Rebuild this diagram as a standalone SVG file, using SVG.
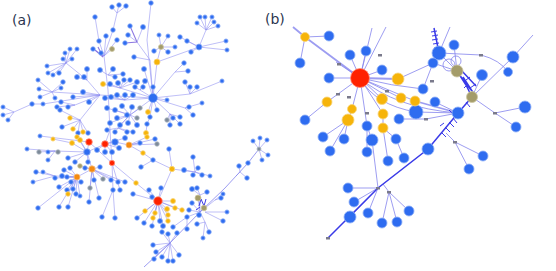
<svg xmlns="http://www.w3.org/2000/svg" width="556" height="271" viewBox="0 0 556 271">
<style>
.e{stroke:#8c8cf0;stroke-width:.7;fill:none;opacity:.8}
.eb{stroke:#8585ee;stroke-width:1;fill:none;opacity:.8}
.ev{stroke:#7a62dc;stroke-width:1.1;fill:none;opacity:.85}
.ed{stroke:#3a3ae8;stroke-width:1.5;fill:none}
.tk{stroke:#3a3ae8;stroke-width:1;fill:none}
.bl{fill:#2e6cf0;stroke:#8eaef6;stroke-width:.8}
.ye{fill:#f6b40a;stroke:#f8d47a;stroke-width:.8}
.rd{fill:#ff2200;stroke:#ff8f78;stroke-width:.8}
.or{fill:#f58a10;stroke:#f8bb78;stroke-width:.8}
.ol{fill:#a49c6a;stroke:#cbc5a0;stroke-width:.8}
.gy{fill:#7d8a99;stroke:#b4bcc6;stroke-width:.8}
.lb{fill:#7a7a8c}
.t{font-family:"DejaVu Sans",sans-serif;font-size:14px;fill:#2b3550}
</style>
<rect width="556" height="271" fill="#ffffff"/>
<text class="t" x="12" y="25">(a)</text>
<text class="t" x="265" y="24">(b)</text>

<g id="connectors-a">
<path class="e" d="M151,3L147,40L153,98M137,42L150,60L153,98M143,27L137,42M128,35L137,42M119,5L117,13M126,6L117,13M112,7L117,13M117,13L113,30L104,56M95,17L99,41M99,41L104,56M106,36L104,56M117,40L104,56M93,49L104,56M101,53L104,56M112,49L104,56M104,56L108,90L110,130L112,163M134,57L150,60
M200,17L206,30M205,17L206,30M212,17L206,30M197,23L206,30M214,22L206,30M218,26L206,30M206,30L199,47M199,47L226,41M199,47L227,50M180,37L199,47M187,41L199,47M191,52L199,47M199,47L157,62M159,35L161,47M168,36L161,47M154,51L161,47M168,52L161,47M175,47L161,47M161,47L157,62L153,98M184,63L175,72M188,71L175,72M175,72L153,98
M153,98L190,94L222,81M185,82L190,94M190,87L190,94M197,87L190,94M153,98L167,100M153,98L185,108L202,103M189,107L185,108M193,115L185,108
M65,53L66,63M70,49L66,63M77,49L66,63M63,59L66,63M72,59L66,63M47,66L66,63M48,73L66,63M53,75L66,63M59,73L66,63M66,63L87,80L100,95M77,77L87,80M84,77L87,80M87,69L87,80M100,70L108,75M113,69L108,75M115,77L108,75M123,74L108,75M144,69L153,98
M38,80L52,92M39,89L52,92M63,82L52,92M61,88L52,92M55,98L52,92M40,97L52,92M52,92L100,95M3,107L14,112M3,115L14,112M8,120L14,112M14,112L32,104L43,104L100,95M83,92L100,95M89,102L100,95M73,97L100,95M61,102L75,105M57,107L75,105M68,107L75,105M75,105L100,95
M60,110L80,120M70,118L80,120M62,127L80,120M73,129L80,120M83,132L80,120M78,133L80,120M88,133L80,120M80,120L100,95M100,95L153,98
M103,84L120,88M110,84L120,88M118,83L120,88M124,80L120,88M130,80L120,88M137,82L120,88M145,81L140,90M135,87L140,90M143,87L140,90M153,87L153,98M120,88L153,98M140,90L153,98
M105,98L125,100M111,97L125,100M117,95L125,100M125,95L125,100M133,95L125,100M125,100L153,98
M107,108L130,115M115,110L130,115M122,106L130,115M132,107L130,115M140,108L130,115M117,118L130,115M110,123L130,115M120,125L130,115M128,123L130,115M137,125L130,115M137,118L130,115M127,115L130,115M130,115L153,98M148,112L153,98M157,110L153,98M150,117L153,98M147,124L150,117M146,133L147,124M167,120L170,114M173,118L170,114M180,117L170,114M170,125L170,114M180,124L170,114M170,114L153,98M127,132L118,128M107,130L118,128M115,132L118,128M133,132L118,128M118,128L130,115
M40,136L89,142L112,163L136,183L158,201M105,144L115,142M105,144L125,138M105,144L119,148M105,144L97,150M105,144L105,152M105,144L112,152M105,144L110,130M129,145L140,143M129,145L147,137M129,145L155,139M129,145L157,144M129,145L115,142M129,145L143,153
M87,152L72,143M87,152L77,137M87,152L80,140M87,152L68,158M87,152L75,162M87,152L88,162M87,152L89,142M87,152L105,144M53,139L72,143M27,149L55,151M39,152L55,151M48,152L55,151M58,152L55,151M48,160L55,151M55,151L87,152
M92,169L85,168M92,169L100,167M92,169L80,166M92,169L90,188M92,169L94,180M92,169L103,179M92,169L111,180M92,169L118,182M92,169L125,182M92,169L99,198M92,169L89,202M92,169L87,152
M77,177L62,176M77,177L55,178M77,177L67,177M77,177L71,182M77,177L81,182M77,177L59,187M77,177L67,190M77,177L68,194M77,177L73,189M77,177L76,194M77,177L80,196M77,177L70,168M77,177L64,170M77,177L92,169M36,172L55,176M43,172L55,176M33,182L55,176M55,176L77,177M38,208L77,177M59,207L77,177M68,207L77,177
M112,163L113,190M112,163L120,190M113,190L102,217M113,190L115,218
M158,201L173,201M158,201L161,188M158,201L149,190M158,201L152,197M158,201L145,211M158,201L155,213M158,201L153,218M158,201L167,209M158,201L175,208M158,201L182,210M158,201L168,215M158,201L168,221M158,201L163,226M158,201L160,221M158,201L144,223M158,201L152,226M158,201L137,218M158,201L133,194
M158,201L172,169L169,149M141,167L153,160M153,160L172,169M143,153L153,160M193,157L195,172M184,170L195,172M198,168L195,172M193,175L195,172M202,175L195,172M210,176L195,172M195,172L172,169M192,189L200,195M197,188L200,195M207,192L200,195M200,195L200,212
M259,149L253,141M259,149L260,138M259,149L267,140M259,149L268,155M259,149L262,160M239,166L240,172M247,178L240,172M240,172L236,176
M198,198L200,212M204,208L200,212M192,203L200,212M189,210L200,212M187,217L200,212M199,215L200,212M197,224L205,222M209,232L205,222M203,238L205,222M205,222L200,212M221,198L215,200M223,194L215,200M215,200L200,212M227,212L205,212M223,221L205,212M173,227L187,217M187,229L187,217
M170,243L153,245M170,243L156,252M170,243L162,257M170,243L168,261M170,243L173,261M170,243L179,255M170,243L154,259M170,243L162,232M170,243L168,234M170,243L177,233"/>
<path class="eb" d="M144,267L170,243L200,212L225,188L248,163L259,149"/>
<path class="ev" d="M130,26L137,42L125,43M95,50L103,57L98,47"/>
<path class="tk" d="M199,206L201,199L204,206L206,199M196,210L200,207"/>
</g>

<g id="nodes-a">
<g class="bl">
<circle cx="119" cy="5" r="2.3"/><circle cx="126" cy="6" r="2.3"/><circle cx="112" cy="7" r="2.3"/><circle cx="151" cy="3" r="2.3"/><circle cx="95" cy="17" r="2.3"/><circle cx="113" cy="30" r="2.3"/><circle cx="130" cy="26" r="2.3"/><circle cx="143" cy="27" r="2.5"/><circle cx="99" cy="41" r="2.3"/><circle cx="106" cy="36" r="2.3"/><circle cx="117" cy="40" r="2.3"/><circle cx="125" cy="43" r="2.3"/><circle cx="128" cy="35" r="2.3"/><circle cx="93" cy="49" r="2.3"/><circle cx="101" cy="53" r="2.3"/><circle cx="134" cy="57" r="2.3"/><circle cx="159" cy="35" r="2.1"/><circle cx="168" cy="36" r="2.1"/><circle cx="180" cy="37" r="2.3"/><circle cx="154" cy="51" r="2.3"/><circle cx="168" cy="52" r="2.3"/><circle cx="175" cy="47" r="2.1"/><circle cx="187" cy="41" r="2.3"/><circle cx="191" cy="52" r="2.3"/><circle cx="199" cy="47" r="3"/><circle cx="184" cy="63" r="2.3"/><circle cx="188" cy="71" r="2.3"/><circle cx="200" cy="17" r="2.1"/><circle cx="205" cy="17" r="2.1"/><circle cx="212" cy="17" r="2.1"/><circle cx="197" cy="23" r="2.1"/><circle cx="214" cy="22" r="2.1"/><circle cx="218" cy="26" r="2.1"/><circle cx="226" cy="41" r="2.1"/><circle cx="227" cy="50" r="2.1"/>
<circle cx="65" cy="53" r="2.1"/><circle cx="70" cy="49" r="2.1"/><circle cx="77" cy="49" r="2.1"/><circle cx="63" cy="59" r="2.1"/><circle cx="72" cy="59" r="2.1"/><circle cx="47" cy="66" r="2.1"/><circle cx="48" cy="73" r="2.1"/><circle cx="53" cy="75" r="2.1"/><circle cx="59" cy="73" r="2.3"/><circle cx="38" cy="80" r="2.1"/><circle cx="63" cy="82" r="2.3"/><circle cx="39" cy="89" r="2.1"/><circle cx="40" cy="97" r="2.1"/><circle cx="55" cy="98" r="2.1"/><circle cx="61" cy="88" r="2.1"/><circle cx="77" cy="77" r="2.5"/><circle cx="84" cy="77" r="2.5"/><circle cx="87" cy="69" r="2.5"/><circle cx="100" cy="70" r="2.5"/><circle cx="113" cy="69" r="2.5"/><circle cx="115" cy="77" r="2.3"/><circle cx="123" cy="74" r="2.3"/><circle cx="144" cy="69" r="2.5"/><circle cx="110" cy="84" r="2.5"/><circle cx="118" cy="83" r="2.5"/><circle cx="124" cy="80" r="2.3"/><circle cx="130" cy="80" r="2.3"/><circle cx="137" cy="82" r="2.5"/><circle cx="145" cy="81" r="2.5"/><circle cx="135" cy="87" r="2.3"/><circle cx="143" cy="87" r="2.3"/><circle cx="153" cy="87" r="2.3"/><circle cx="153" cy="98" r="4.5"/><circle cx="167" cy="100" r="2.1"/><circle cx="185" cy="82" r="2.3"/><circle cx="190" cy="87" r="2.3"/><circle cx="197" cy="87" r="2.3"/><circle cx="222" cy="81" r="2.1"/><circle cx="83" cy="92" r="2.5"/><circle cx="89" cy="102" r="2.5"/><circle cx="73" cy="97" r="2.3"/><circle cx="61" cy="102" r="2.3"/><circle cx="57" cy="107" r="2.3"/><circle cx="68" cy="107" r="2.3"/><circle cx="3" cy="107" r="2.1"/><circle cx="3" cy="115" r="2.1"/><circle cx="8" cy="120" r="2.1"/><circle cx="32" cy="104" r="2.3"/><circle cx="43" cy="104" r="2.1"/><circle cx="60" cy="110" r="2.3"/><circle cx="62" cy="127" r="2.3"/><circle cx="78" cy="133" r="2.3"/><circle cx="88" cy="133" r="2.3"/>
<circle cx="105" cy="98" r="2.5"/><circle cx="111" cy="97" r="2.5"/><circle cx="117" cy="95" r="2.5"/><circle cx="125" cy="95" r="2.5"/><circle cx="133" cy="95" r="2.5"/><circle cx="107" cy="108" r="2.5"/><circle cx="115" cy="110" r="2.5"/><circle cx="122" cy="106" r="2.5"/><circle cx="132" cy="107" r="2.5"/><circle cx="157" cy="110" r="2.3"/><circle cx="150" cy="117" r="2.3"/><circle cx="127" cy="115" r="2.5"/><circle cx="117" cy="118" r="2.5"/><circle cx="110" cy="123" r="2.5"/><circle cx="120" cy="125" r="2.5"/><circle cx="128" cy="123" r="2.5"/><circle cx="137" cy="125" r="2.5"/><circle cx="147" cy="124" r="2.3"/><circle cx="173" cy="118" r="2.3"/><circle cx="180" cy="117" r="2.3"/><circle cx="189" cy="107" r="2.3"/><circle cx="202" cy="103" r="2.1"/><circle cx="193" cy="115" r="2.3"/><circle cx="170" cy="125" r="2.3"/><circle cx="180" cy="124" r="2.3"/><circle cx="127" cy="132" r="2.3"/><circle cx="107" cy="130" r="2.3"/><circle cx="115" cy="132" r="2.3"/><circle cx="133" cy="132" r="2.3"/>
<circle cx="40" cy="136" r="2.1"/><circle cx="115" cy="142" r="3.3"/><circle cx="125" cy="138" r="2.5"/><circle cx="119" cy="148" r="2.5"/><circle cx="140" cy="143" r="2.3"/><circle cx="155" cy="139" r="2.3"/><circle cx="27" cy="149" r="2.1"/><circle cx="48" cy="152" r="2.1"/><circle cx="48" cy="160" r="2.1"/><circle cx="68" cy="158" r="2.3"/><circle cx="75" cy="162" r="2.3"/><circle cx="87" cy="152" r="3.3"/><circle cx="97" cy="150" r="2.5"/><circle cx="105" cy="152" r="2.5"/><circle cx="112" cy="152" r="2.5"/><circle cx="88" cy="162" r="2.3"/><circle cx="85" cy="168" r="2.3"/><circle cx="100" cy="167" r="2.3"/><circle cx="70" cy="168" r="2.3"/><circle cx="64" cy="170" r="2.3"/><circle cx="36" cy="172" r="2.3"/><circle cx="43" cy="172" r="2.1"/><circle cx="33" cy="182" r="2.1"/><circle cx="62" cy="176" r="2.5"/><circle cx="55" cy="178" r="2.3"/><circle cx="67" cy="177" r="2.3"/><circle cx="71" cy="182" r="2.3"/><circle cx="81" cy="182" r="2.3"/><circle cx="59" cy="187" r="2.3"/><circle cx="67" cy="190" r="2.3"/><circle cx="73" cy="189" r="2.3"/><circle cx="76" cy="194" r="2.3"/><circle cx="80" cy="196" r="2.1"/><circle cx="94" cy="180" r="2.3"/><circle cx="111" cy="180" r="2.3"/><circle cx="118" cy="182" r="2.3"/><circle cx="125" cy="182" r="2.3"/><circle cx="113" cy="190" r="2.3"/><circle cx="120" cy="190" r="2.3"/><circle cx="99" cy="198" r="2.3"/><circle cx="89" cy="202" r="2.3"/><circle cx="38" cy="208" r="2.3"/><circle cx="59" cy="207" r="2.3"/><circle cx="68" cy="207" r="2.3"/><circle cx="102" cy="217" r="2.3"/><circle cx="115" cy="218" r="2.3"/>
<circle cx="141" cy="167" r="2.3"/><circle cx="153" cy="160" r="2.3"/><circle cx="169" cy="149" r="2.3"/><circle cx="133" cy="194" r="2.3"/><circle cx="193" cy="157" r="2.3"/><circle cx="184" cy="170" r="2.5"/><circle cx="198" cy="168" r="2.3"/><circle cx="193" cy="175" r="2.3"/><circle cx="202" cy="175" r="2.3"/><circle cx="210" cy="176" r="2.1"/><circle cx="192" cy="189" r="2.5"/><circle cx="197" cy="188" r="2.3"/><circle cx="207" cy="192" r="2.3"/><circle cx="161" cy="188" r="2.3"/><circle cx="149" cy="190" r="2.3"/><circle cx="152" cy="197" r="2.3"/><circle cx="163" cy="226" r="2.5"/><circle cx="160" cy="221" r="2.5"/><circle cx="144" cy="223" r="2.3"/><circle cx="152" cy="226" r="2.3"/><circle cx="137" cy="218" r="2.3"/><circle cx="173" cy="227" r="2.3"/><circle cx="162" cy="232" r="2.3"/><circle cx="168" cy="234" r="2.3"/><circle cx="177" cy="233" r="2.3"/><circle cx="187" cy="229" r="2.3"/><circle cx="192" cy="203" r="2.3"/><circle cx="189" cy="210" r="2.3"/><circle cx="187" cy="217" r="2.3"/><circle cx="199" cy="215" r="2.5"/><circle cx="197" cy="224" r="2.3"/><circle cx="209" cy="232" r="2.3"/><circle cx="203" cy="238" r="2.1"/><circle cx="221" cy="198" r="2.3"/><circle cx="223" cy="194" r="2.1"/><circle cx="227" cy="212" r="2.1"/><circle cx="223" cy="221" r="2.3"/><circle cx="239" cy="166" r="2.3"/><circle cx="247" cy="178" r="2.3"/><circle cx="248" cy="163" r="2.3"/><circle cx="253" cy="141" r="2.1"/><circle cx="260" cy="138" r="2.1"/><circle cx="267" cy="140" r="2.1"/><circle cx="268" cy="155" r="2.1"/><circle cx="262" cy="160" r="2.1"/><circle cx="153" cy="245" r="2.3"/><circle cx="156" cy="252" r="2.3"/><circle cx="162" cy="257" r="2.3"/><circle cx="168" cy="261" r="2.3"/><circle cx="173" cy="261" r="2.3"/><circle cx="179" cy="255" r="2.3"/><circle cx="154" cy="259" r="2.3"/>
</g>
<g class="ye">
<circle cx="157" cy="62" r="3"/><circle cx="103" cy="84" r="2.5"/><circle cx="70" cy="118" r="2.3"/><circle cx="73" cy="129" r="2.3"/><circle cx="83" cy="132" r="2.3"/><circle cx="148" cy="112" r="2.5"/><circle cx="146" cy="133" r="2.5"/><circle cx="53" cy="139" r="2.1"/><circle cx="77" cy="137" r="2.3"/><circle cx="72" cy="143" r="2.5"/><circle cx="80" cy="140" r="2.5"/><circle cx="147" cy="137" r="2.3"/><circle cx="143" cy="153" r="2.3"/><circle cx="68" cy="194" r="2.3"/><circle cx="136" cy="183" r="2.3"/><circle cx="172" cy="169" r="2.7"/><circle cx="173" cy="201" r="2.5"/><circle cx="145" cy="211" r="2.3"/><circle cx="155" cy="213" r="2.3"/><circle cx="153" cy="218" r="2.3"/><circle cx="167" cy="209" r="2.5"/><circle cx="175" cy="208" r="2.3"/><circle cx="182" cy="210" r="2.3"/><circle cx="168" cy="215" r="2.3"/><circle cx="168" cy="221" r="2.3"/>
</g>
<g class="rd">
<circle cx="89" cy="142" r="3.3"/><circle cx="105" cy="144" r="3.3"/><circle cx="112" cy="163" r="2.7"/><circle cx="158" cy="201" r="4.3"/>
</g>
<g class="or">
<circle cx="129" cy="145" r="3"/><circle cx="92" cy="169" r="3.2"/><circle cx="77" cy="177" r="3"/>
</g>
<g class="ol">
<circle cx="112" cy="49" r="2.5"/><circle cx="161" cy="47" r="2.5"/><circle cx="80" cy="166" r="2.3"/><circle cx="198" cy="198" r="3"/><circle cx="204" cy="208" r="2.8"/>
</g>
<g class="gy">
<circle cx="140" cy="108" r="2.3"/><circle cx="137" cy="118" r="2.3"/><circle cx="167" cy="120" r="2.3"/><circle cx="157" cy="144" r="2.3"/><circle cx="39" cy="152" r="2.3"/><circle cx="58" cy="152" r="2.3"/><circle cx="90" cy="188" r="2.3"/><circle cx="103" cy="179" r="2.3"/><circle cx="259" cy="149" r="2"/>
</g>
</g>

<g id="connectors-b">
<path class="eb" d="M305,37L329,36M305,37L300,63M360,78L350,55M360,78L366,51M360,78L372,28M360,78L386,27M360,78L382,70M360,78L329,78M360,78L336,62M360,78L327,102M327,102L305,120M360,78L352,109M352,109L348,120M360,78L382,99M360,78L383,114L383,128M360,78L401,98M360,78L415,101M360,78L367,126M360,78Q375,105 416,112M360,78Q395,108 458,113M360,78Q392,86 423,89M398,79L433,63M423,89L433,63M433,63L439,53M454,45L457,71M439,53L481,55Q500,60 508,72M439,53L457,71M433,63L457,71M450,27L439,53M472,97L513,57L533,35M472,97L482,75M472,97L495,113L525,107M495,113L516,127M458,113L426,119L399,119M416,112L458,113M435,102L458,113M348,120L323,137M348,120L344,139M348,120L330,151M367,126L372,140M367,126L367,152M383,128L388,161M383,128L396,139L404,158M372,140L378,188M378,188L348,188M378,188L354,202M378,188L350,217M378,188L368,213M389,192L382,223M389,192L397,222M389,192L409,211M389,192L383,184M455,142L483,156M455,142L469,169M455,142L446,133"/>
<path class="eb" style="stroke-width:1.8" d="M293,27L305,37L360,78M360,78L398,79M415,101L458,113"/>
<circle class="eb" cx="449" cy="65" r="6"/>
<circle class="eb" cx="456" cy="61" r="5"/>
<path class="ed" d="M328,238L378,188L428,149L458,113L472,97M434,28L439,53M457,71L466,85L472,97M458,73L471,90M461,70L476,86M463,77L474,94"/>
<path class="tk" d="M431,32L437,31M432,36L438,35M432,40L438,39M433,44L439,43M434,48L440,47M466,80L470,77M470,88L476,84M464,88L468,84M441,132L446,137M445,127L450,132M449,122L454,127M453,118L457,123M440,126L444,123M452,113L449,110M466,102L470,107"/>
<g class="lb">
<rect x="378" y="54" width="4" height="2.5"/><rect x="337" y="63" width="4" height="2.5"/><rect x="336" y="93" width="4" height="2.5"/><rect x="347" y="96" width="4" height="2.5"/><rect x="385" y="90" width="4" height="2.5"/><rect x="365" y="112" width="4" height="2.5"/><rect x="479" y="54" width="4" height="2.5"/><rect x="430" y="80" width="4" height="2.5"/><rect x="493" y="112" width="4" height="2.5"/><rect x="424" y="118" width="4" height="2.5"/><rect x="453" y="141" width="4" height="2.5"/><rect x="376" y="187" width="4" height="2.5"/><rect x="387" y="191" width="4" height="2.5"/><rect x="326" y="237" width="4" height="2.5"/>
</g>
</g>

<g id="nodes-b">
<g class="bl">
<circle id="b1" cx="329" cy="36" r="5"/><circle id="b2" cx="300" cy="63" r="5"/><circle id="b3" cx="350" cy="55" r="5"/><circle id="b4" cx="366" cy="51" r="5"/><circle id="b5" cx="382" cy="70" r="5"/><circle id="b6" cx="329" cy="78" r="5"/><circle id="b7" cx="305" cy="120" r="5"/><circle id="b8" cx="367" cy="126" r="5"/><circle id="b9" cx="399" cy="119" r="5"/><circle id="b10" cx="423" cy="89" r="5"/><circle id="b11" cx="416" cy="112" r="7"/><circle id="b12" cx="435" cy="102" r="5"/><circle id="b13" cx="458" cy="113" r="6"/><circle id="b14" cx="439" cy="53" r="7"/><circle id="b15" cx="454" cy="45" r="5"/><circle id="b16" cx="433" cy="63" r="5"/><circle id="b17" cx="482" cy="75" r="5.5"/><circle id="b18" cx="513" cy="57" r="6"/><circle id="b19" cx="508" cy="72" r="4.5"/><circle id="b20" cx="525" cy="107" r="6"/><circle id="b21" cx="516" cy="127" r="5"/><circle id="b22" cx="323" cy="137" r="5"/><circle id="b23" cx="344" cy="139" r="5"/><circle id="b24" cx="330" cy="151" r="5"/><circle id="b25" cx="372" cy="140" r="6"/><circle id="b26" cx="367" cy="152" r="5"/><circle id="b27" cx="396" cy="139" r="5"/><circle id="b28" cx="388" cy="161" r="5"/><circle id="b29" cx="404" cy="158" r="5"/><circle id="b30" cx="428" cy="149" r="6"/><circle id="b31" cx="483" cy="156" r="5"/><circle id="b32" cx="469" cy="169" r="5"/><circle id="b33" cx="348" cy="188" r="5"/><circle id="b34" cx="354" cy="202" r="5"/><circle id="b35" cx="350" cy="217" r="6"/><circle id="b36" cx="368" cy="213" r="5"/><circle id="b37" cx="382" cy="223" r="5"/><circle id="b38" cx="397" cy="222" r="5"/><circle id="b39" cx="409" cy="211" r="5"/>
</g>
<g class="ye">
<circle id="y1" cx="305" cy="37" r="4.5"/><circle id="y2" cx="398" cy="79" r="6"/><circle id="y3" cx="327" cy="102" r="5"/><circle id="y4" cx="352" cy="109" r="4.5"/><circle id="y5" cx="348" cy="120" r="6"/><circle id="y6" cx="382" cy="99" r="5.5"/><circle id="y7" cx="401" cy="98" r="5"/><circle id="y8" cx="415" cy="101" r="5"/><circle id="y9" cx="383" cy="114" r="5"/><circle id="y10" cx="383" cy="128" r="5"/>
</g>
<circle id="r1" class="rd" cx="360" cy="78" r="9.5"/>
<circle id="o1" class="ol" cx="457" cy="71" r="6"/>
<circle id="o2" class="ol" cx="472" cy="97" r="5.5"/>
</g>
</svg>
